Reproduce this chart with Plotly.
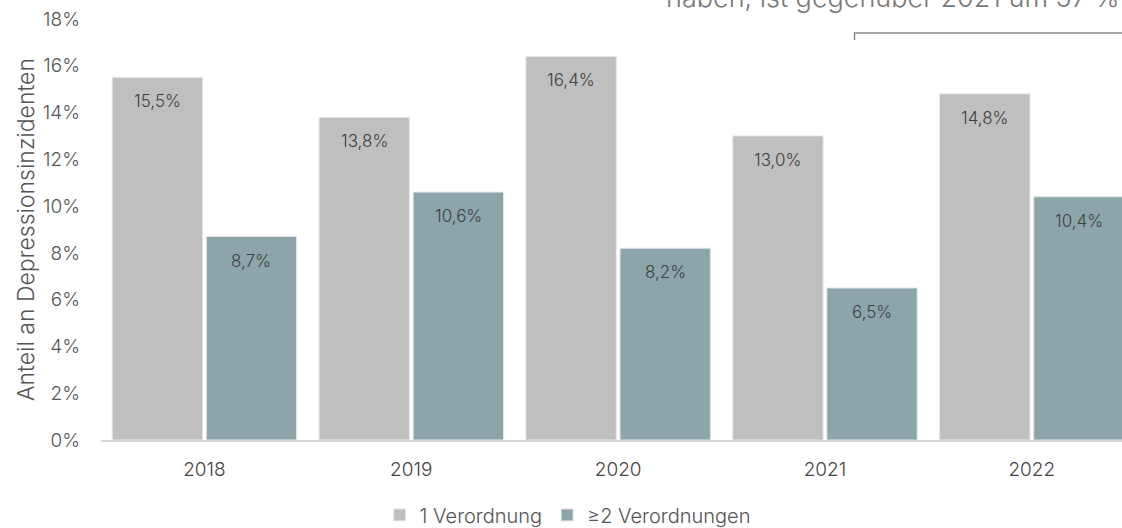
import plotly.graph_objects as go

years = ["2018", "2019", "2020", "2021", "2022"]
one_rx = [15.5, 13.8, 16.4, 13.0, 14.8]
two_rx = [8.7, 10.6, 8.2, 6.5, 10.4]
series_names = ["1 Verordnung", "≥2 Verordnungen"]
colors = ["#BFBFBF", "#8CA5AA"]
y_ticks = [0, 2, 4, 6, 8, 10, 12, 14, 16, 18]
y_tick_text = ["0%", "2%", "4%", "6%", "8%", "10%", "12%", "14%", "16%", "18%"]
top_note = "haben, ist gegenüber 2021 um 57 %"

FONT = "Inter"
BARGAP, GROUPGAP = 0.09, 0.04
fig = go.Figure()
for name, vals, col in zip(series_names, [one_rx, two_rx], colors):
    fig.add_trace(go.Bar(
        x=years, y=vals, name=name,
        marker=dict(color=col, line=dict(color="#E6E6E6", width=1)),
        cliponaxis=True,
    ))

# value labels inside bars, just below the bar top
slot = (1 - BARGAP) / 2
for k, vals in enumerate([one_rx, two_rx]):
    off = (k - 0.5) * slot
    for i, v in enumerate(vals):
        fig.add_annotation(x=i + off, y=v, xref="x", yref="y", yshift=-24,
                           text=f"{v:.1f}%".replace(".", ","), showarrow=False,
                           font=dict(family=FONT, size=17, color="#404040", weight=300))

fig.update_layout(
    width=1122, height=528,
    margin=dict(l=101, r=0, t=19, b=88, autoexpand=False),
    plot_bgcolor="white", paper_bgcolor="white",
    separators=",.",
    barmode="group", bargap=BARGAP, bargroupgap=GROUPGAP,
    font=dict(family=FONT, color="#555555", weight=300),
    legend=dict(orientation="h", x=0.457, xanchor="center", y=-0.178, yanchor="middle",
                font=dict(size=20, color="#555555", family=FONT, weight=300),
                itemwidth=30, traceorder="normal"),
    xaxis=dict(range=[-0.5, 4.436], showgrid=False, showline=True, linecolor="#D9D9D9",
               linewidth=2, ticks="", tickfont=dict(size=19, color="#444444", weight=300),
               ticklabelstandoff=11, automargin=False),
    yaxis=dict(range=[0, 18], tickvals=y_ticks, ticktext=y_tick_text, showgrid=False,
               zeroline=False, showline=False, automargin=False,
               tickfont=dict(size=19, color="#555555", weight=300),
               ticklabelstandoff=20,
               title=dict(text="Anteil an Depressionsinzidenten", standoff=1,
                          font=dict(size=23, color="#555555", weight=300))),
)
fig.add_annotation(text=top_note, xref="paper", yref="paper", x=1.0, y=1.052,
                   xanchor="right", yanchor="middle", showarrow=False,
                   font=dict(size=27, color="#777777", family=FONT, weight=300))
fig.add_shape(type="path", xref="paper", yref="paper",
              path="M 0.738 0.950 L 0.738 0.967 L 1.0 0.967",
              line=dict(color="#888888", width=1.5))
fig.write_html("out.html", config={"displayModeBar": False},
               post_script="document.body.style.margin='0';")
